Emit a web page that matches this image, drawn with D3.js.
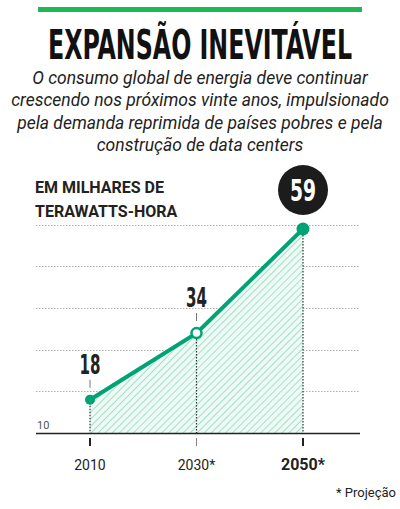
<!DOCTYPE html>
<html>
<head>
<script src="https://d3js.org/d3.v7.min.js"></script>
<style>
  html, body { margin: 0; padding: 0; background: #fff; }
</style>
</head>
<body>
<svg id="chart" width="400" height="509"></svg>
<script>
  const years = ["2010", "2030*", "2050*"];
  const values = [18, 34, 59];
  const gridTicks = [10, 20, 30, 40, 50, 60];
  const subtitleLines = [
    "O consumo global de energia deve continuar",
    "crescendo nos próximos vinte anos, impulsionado",
    "pela demanda reprimida de países pobres e pela",
    "construção de data centers"
  ];

  const green = "#00a373";
  const svg = d3.select("#chart");

  svg.append("rect").attr("x", 38).attr("y", 7).attr("width", 324).attr("height", 5).attr("fill", "#1db954");

  svg.append("text").attr("x", 48).attr("y", 59)
    .attr("textLength", 304).attr("lengthAdjust", "spacingAndGlyphs")
    .style("font-family", "'DejaVu Sans Condensed', 'DejaVu Sans'")
    .style("font-weight", "bold").style("font-size", "40px").attr("fill", "#111")
    .text("EXPANSÃO INEVITÁVEL");

  svg.selectAll(".sub").data(subtitleLines).enter().append("text")
    .attr("x", 200).attr("y", (d, i) => 84 + i * 22.3)
    .attr("text-anchor", "middle")
    .style("font-family", "Roboto").style("font-style", "italic")
    .style("font-weight", 400).style("font-size", "17.5px").attr("fill", "#222")
    .text(d => d);

  svg.append("text").attr("x", 35).attr("y", 193)
    .style("font-family", "Roboto").style("font-weight", "bold").style("font-size", "16px")
    .attr("fill", "#222").text("EM MILHARES DE");
  svg.append("text").attr("x", 35).attr("y", 217)
    .style("font-family", "Roboto").style("font-weight", "bold").style("font-size", "16px")
    .attr("fill", "#222").text("TERAWATTS-HORA");

  const x = d3.scalePoint().domain(years).range([90, 303]);
  const y = d3.scaleLinear().domain([10, 59]).range([433, 229]);

  svg.selectAll(".grid").data(gridTicks.filter(d => d > 10)).enter().append("line")
    .attr("x1", 36).attr("x2", 360)
    .attr("y1", d => Math.round(y(d)) + 0.5).attr("y2", d => Math.round(y(d)) + 0.5)
    .attr("stroke", "#999").attr("stroke-width", 0.8).attr("stroke-dasharray", "1.5,1.5");

  const defs = svg.append("defs");
  const pat = defs.append("pattern").attr("id", "hatch").attr("patternUnits", "userSpaceOnUse")
    .attr("width", 5).attr("height", 5).attr("patternTransform", "rotate(45)");
  pat.append("rect").attr("width", 5).attr("height", 5).attr("fill", "#eefaf5");
  pat.append("line").attr("x1", 0).attr("y1", 0).attr("x2", 0).attr("y2", 5)
    .attr("stroke", "#7fd3b5").attr("stroke-width", 1.3);

  const pts = years.map((d, i) => ({ year: d, value: values[i] }));

  svg.append("path").datum(pts)
    .attr("d", d3.area().x(d => x(d.year)).y0(y(10)).y1(d => y(d.value)))
    .attr("fill", "url(#hatch)");

  svg.selectAll(".drop").data(pts).enter().append("line")
    .attr("x1", d => x(d.year)).attr("x2", d => x(d.year))
    .attr("y1", d => y(d.value)).attr("y2", y(10))
    .attr("stroke", "#333").attr("stroke-width", 1.2).attr("stroke-dasharray", "1.5,1.5");

  svg.append("path").datum(pts)
    .attr("d", d3.line().x(d => x(d.year)).y(d => y(d.value)))
    .attr("fill", "none").attr("stroke", green).attr("stroke-width", 4);

  svg.append("line").attr("x1", 36).attr("x2", 360).attr("y1", 433.5).attr("y2", 433.5)
    .attr("stroke", "#222").attr("stroke-width", 1.5);
  svg.append("text").attr("x", 37).attr("y", 429)
    .style("font-family", "Roboto").style("font-size", "11px").attr("fill", "#555").text("10");

  svg.selectAll(".tick").data(years).enter().append("line")
    .attr("x1", d => x(d)).attr("x2", d => x(d))
    .attr("y1", 438).attr("y2", 446)
    .attr("stroke", (d, i) => i === 1 ? "#888" : "#222")
    .attr("stroke-width", (d, i) => i === 1 ? 1 : 2);

  svg.selectAll(".xlab").data(years).enter().append("text")
    .attr("x", d => x(d)).attr("y", 470).attr("text-anchor", "middle")
    .style("font-family", "Roboto").style("font-size", (d, i) => i === 2 ? "16px" : "14px")
    .style("font-weight", (d, i) => i === 2 ? "bold" : "normal")
    .attr("fill", "#222").text(d => d);

  svg.selectAll(".pt").data(pts).enter().append("circle")
    .attr("cx", d => x(d.year)).attr("cy", d => y(d.value))
    .attr("r", (d, i) => i === 2 ? 6.5 : 5)
    .attr("fill", (d, i) => i === 1 ? "#fff" : green)
    .attr("stroke", green).attr("stroke-width", (d, i) => i === 1 ? 2.5 : 0);

  pts.slice(0, 2).forEach(d => {
    const cx = x(d.year), cy = y(d.value);
    svg.append("line").attr("x1", cx).attr("x2", cx).attr("y1", cy - 20).attr("y2", cy - 12)
      .attr("stroke", "#777").attr("stroke-width", 1);
    svg.append("text").attr("x", cx).attr("y", cy - 26).attr("text-anchor", "middle")
      .attr("textLength", 21).attr("lengthAdjust", "spacingAndGlyphs")
      .style("font-family", "'DejaVu Sans Condensed'").style("font-weight", "bold").style("font-size", "26px")
      .attr("fill", "#222").text(d.value);
  });

  const last = pts[2];
  svg.append("circle").attr("cx", x(last.year)).attr("cy", 190).attr("r", 25).attr("fill", "#1c1c1c");
  svg.append("text").attr("x", x(last.year)).attr("y", 201).attr("text-anchor", "middle")
    .attr("textLength", 26).attr("lengthAdjust", "spacingAndGlyphs")
    .style("font-family", "'DejaVu Sans Condensed'").style("font-weight", "bold").style("font-size", "30px")
    .attr("fill", "#fff").text(last.value);

  svg.append("text").attr("x", 396).attr("y", 497).attr("text-anchor", "end")
    .style("font-family", "Roboto").style("font-size", "13px").attr("fill", "#222").text("* Projeção");
</script>
</body>
</html>
